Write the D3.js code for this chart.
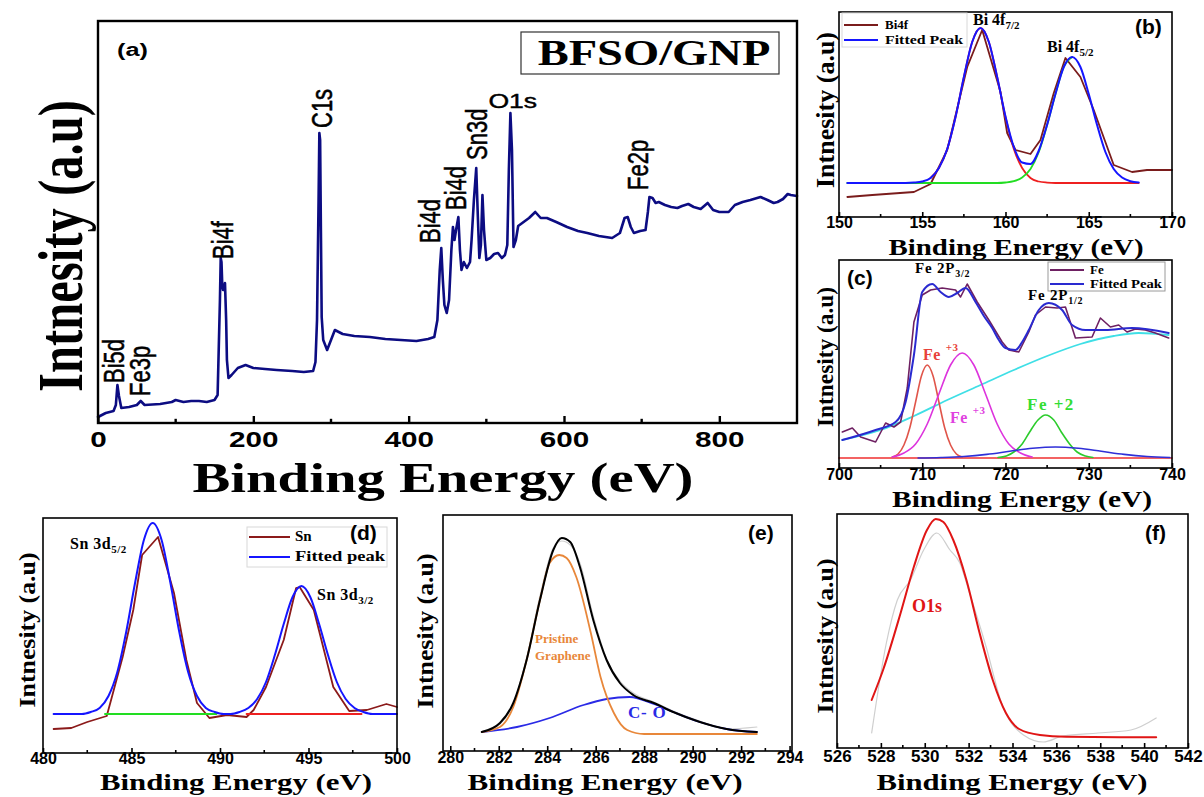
<!DOCTYPE html>
<html>
<head>
<meta charset="utf-8">
<script src="https://cdn.jsdelivr.net/npm/d3@7"></script>
<style>
  body { margin: 0; background: #fff; }
  svg { display: block; }
</style>
</head>
<body>
<svg id="fig" width="1204" height="797"></svg>
<script>
// ---------- data (binding energy eV, intensity a.u.) ----------

// (a) survey spectrum
const surveySpectrum = [
  [0,6],[10,10],[20,12],[23,18],[25,38],[27,27],[30,15],[40,16],[50,18],[55,22],[60,18],[80,19],
  [95,21],[100,23],[110,21],[120,22],[130,22],[140,21],[150,23],[154,28],[157,123],[158,165],
  [159,161],[160,138],[161,133],[162,133],[163.5,140],[165,103],[166,63],[168,45],[172,48],
  [180,55],[190,58],[200,55],[215,54],[230,53],[250,52],[265,51],[277,52],[280,61],[282,103],
  [284,223],[285,290],[286,283],[287,193],[288,106],[290,83],[295,73],[300,83],[305,93],[315,89],
  [330,87],[350,86],[370,84],[390,83],[410,82],[425,84],[433,86],[437,103],[440,153],[442,175],
  [444,143],[446,118],[449,110],[452,123],[455,173],[457,196],[459,183],[461,193],[464,206],
  [466,173],[468,153],[471,161],[475,155],[479,161],[481,183],[484,223],[487,255],[489,208],
  [491,165],[493,178],[495,228],[497,193],[500,163],[505,165],[510,169],[515,170],[520,165],
  [524,168],[527,178],[529,253],[531,310],[533,273],[535,176],[538,183],[541,197],[548,201],
  [555,205],[563,211],[570,205],[578,205],[590,201],[604,196],[618,192],[630,190],[645,187],
  [662,185],[672,190],[678,205],[682,206],[686,196],[690,190],[698,192],[705,193],[708,211],
  [710,226],[714,225],[718,220],[722,221],[730,218],[738,216],[746,215],[752,217],[760,219],
  [767,216],[776,214],[785,220],[792,213],[800,211],[812,211],[820,218],[830,221],[840,223],
  [853,226],[862,223],[870,220],[875,221],[882,224],[888,229],[892,228],[900,227]
];
const surveyPeaks = [
  { name: "Bi5d", e: 25 }, { name: "Fe3p", e: 55 }, { name: "Bi4f", e: 158 },
  { name: "C1s", e: 285 }, { name: "Bi4d", e: 442 }, { name: "Bi4d", e: 464 },
  { name: "Sn3d", e: 487 }, { name: "O1s", e: 531 }, { name: "Fe2p", e: 710 }
];

// (b) Bi 4f
const bi4fRaw = [
  [150.5,20],[152,22],[154.5,25],[155.5,33],[156.5,67],[157.7,150],[158.6,187],[159.7,125],
  [160.1,84],[160.6,67],[161.5,63],[162.1,77],[162.9,124],[163.6,159],[164.5,140],[165.3,107],
  [166.5,52],[167.6,45],[168.5,47],[170,47]
];
const bi4fFit = [
  [150.5,34],[154,34],[154.5,34.4],[155,35.5],[155.5,39],[156,49],[156.5,68],[157,100],[157.5,140],
  [158,175],[158.5,189],[159,175],[159.5,140],[160,100.5],[160.5,70],[161,54.5],[161.5,53],
  [162,66.5],[162.5,92.4],[163,123],[163.5,150],[164,160],[164.5,150],[165,123],[165.5,92],
  [166,65],[166.5,48],[167,39.5],[167.5,35.8],[168,34.5]
];
const bi4f72 = [
  [155.5,39],[156,49],[156.5,68],[157,100],[157.5,140],[158,175],[158.5,189],[159,175],[159.5,140],
  [160,100],[160.5,68],[161,49],[161.5,39],[162,35.5],[162.5,34.4],[163,34],[168,34]
];
const bi4f52 = [
  [150.5,34],[159.5,34],[160,34.5],[160.5,35.8],[161,39.5],[161.5,48],[162,65],[162.5,92],
  [163,123],[163.5,150],[164,160]
];

// (c) Fe 2p
const feRaw = [
  [700.4,36],[701.6,40],[702.6,31],[704.4,26],[705.6,45],[706.6,41],[707.4,46],[708.2,80],
  [709.0,146],[710.0,173],[711.0,178],[712.4,180],[714.0,178],[714.6,171],[715.4,184],[716.6,166],
  [718.0,148],[719.6,126],[720.4,118],[721.6,116],[722.8,136],[723.6,153],[724.8,161],[726.2,160],
  [727.2,161],[728.4,130],[730.4,131],[731.4,150],[732.6,141],[733.6,143],[734.6,136],[735.6,139],
  [736.8,138],[738.0,135],[739.6,130]
];
const feFit = [
  [700.4,28],[704.4,38],[706.8,46],[708.0,66],[709.0,113],[710.0,176],[711.2,184],[712.2,176],
  [713.2,171],[714.2,175],[715.2,180],[716.4,166],[717.4,152],[718.4,140],[719.2,128],[720.0,120],
  [721.2,118],[722.0,126],[722.8,138],[724.0,158],[725.2,165],[726.8,158],[728.0,143],[729.6,138],
  [732.0,138],[735.2,140],[739.6,135]
];
const feBackground = [
  [700.4,28],[705,38],[709,52],[713,68],[717,83],[721,98],[725,112],[729,124],[733,132],[736,135],[739.6,133]
];
const fe3Red = [
  [706.4,11],[707.1,14],[707.8,23],[708.5,40],[709.2,66],[709.9,92],[710.6,103],[711.3,92],
  [712.0,66],[712.7,40],[713.4,23],[714.1,14],[714.8,11]
];
const fe3Magenta = [
  [706.4,11],[707.8,15],[709.2,24],[710.6,44],[712.0,74],[713.4,103],[714.8,115],[716.2,103],
  [717.6,74],[719.0,44],[720.4,24],[721.8,15],[723.2,11]
];
const fe2Green = [
  [719.1,10.5],[720.1,12],[721.0,16],[722.0,24],[722.9,36],[723.9,48],[724.8,53],[725.8,48],
  [726.7,36],[727.7,24],[728.6,16],[729.6,12],[730.5,10.5]
];
const feSatellite = [
  [709.5,10],[712.25,10.5],[715,11.5],[717.75,13.6],[720.5,16.7],[723.25,19.7],[726,21],[728.75,19.7],
  [731.5,16.7],[734.25,13.6],[737,11.5],[739.75,10.5]
];
const feBase = [[700,10],[740,10]];

// (d) Sn 3d
const snRaw = [
  [480.6,24],[481.6,25],[482.5,31],[483.6,37],[483.8,50],[484.5,96],[485.1,143],[485.6,198],
  [486.5,216],[487.4,160],[488.1,93],[488.7,50],[489.4,35],[490.4,38],[491.5,36],[491.9,43],
  [492.6,66],[493.6,113],[494.3,165],[494.5,166],[495.3,143],[496.4,66],[497.3,42],[498.3,43],
  [499.4,49],[500,46]
];
const snFit = [
  [480.6,39],[482.2,39],[482.7,41],[483.2,45],[483.7,57],[484.2,81],[484.7,121],[485.2,170],
  [485.7,213],[486.2,230],[486.7,213],[487.2,170],[487.7,121],[488.2,81],[488.7,57],[489.2,45],
  [489.7,41],[490.2,39],[490.6,39],[491.1,41],[491.6,45],[492.1,54],[492.6,71],[493.1,98],
  [493.6,129],[494.1,156],[494.6,167],[495.1,156],[495.6,129],[496.1,98],[496.6,71],[497.1,54],
  [497.6,45],[498.1,41],[498.6,39],[500,39]
];
const sn52Base = [[483.5,39],[489.8,39]];
const sn32Base = [[491.5,39],[498,39]];

// (e) C 1s
const c1sRaw = [
  [281.3,19],[282.05,27],[282.6,47],[283.15,93],[283.7,155],[284.25,203],[284.6,210],[284.95,206],
  [285.35,188],[285.9,135],[286.45,92],[287.0,70],[287.55,58],[288.4,49],[289.2,40],[290.3,30],
  [291.4,22],[292.65,24]
];
const c1sFit = [
  [281.3,19],[282.05,28],[282.6,48],[283.15,91],[283.7,151],[284.25,201],[284.6,213],[284.95,209],
  [285.35,184],[285.9,131],[286.45,91],[287.0,68],[287.55,56],[288.4,48],[289.2,39],[290.3,29],
  [291.4,22],[292.65,19]
];
const graphenePeak = [
  [281.3,19],[282.05,24],[282.6,44],[283.15,91],[283.7,151],[284.1,188],[284.5,196],[284.8,193],
  [285.2,174],[285.8,118],[286.2,74],[286.75,38],[287.3,21],[288.0,17],[289.0,17],[292.65,17]
];
const coPeak = [
  [281.3,19],[282.75,24],[284.1,33],[285.5,46],[286.45,52],[287.4,54],[288.4,47],[289.2,39],
  [290.3,29],[291.4,22],[292.65,19]
];

// (f) O 1s
const o1sRaw = [
  [527.58,15],[528.25,105],[528.75,148],[529.35,168],[529.95,198],[530.55,215],[531.15,198],
  [531.6,185],[532.0,158],[532.8,101],[533.5,45],[534.5,13],[535.4,6],[536.3,12],[537.9,15],
  [539.4,18],[540.55,30]
];
const o1sFit = [
  [527.58,48],[528.1,78],[528.9,135],[529.5,181],[530.1,218],[530.5,229],[530.85,226],[531.3,208],
  [531.9,168],[532.5,115],[533.1,68],[533.7,35],[534.3,19],[535.25,13],[536.45,11.3],[540.55,10.7]
];

// tick values
const ticksA = [0, 200, 400, 600, 800], minorA = [100, 300, 500, 700];
const ticksB = [150, 155, 160, 165, 170], minorB = [152.5, 157.5, 162.5, 167.5];
const ticksC = [700, 710, 720, 730, 740], minorC = [705, 715, 725, 735];
const ticksD = [480, 485, 490, 495, 500], minorD = [482.5, 487.5, 492.5, 497.5];
const ticksE = [280, 282, 284, 286, 288, 290, 292, 294], minorE = [281, 283, 285, 287, 289, 291, 293];
const ticksF = [526, 528, 530, 532, 534, 536, 538, 540, 542], minorF = [527, 529, 531, 533, 535, 537, 539, 541];

// ---------- drawing ----------
const svg = d3.select("#fig");
const SERIF = "'Liberation Serif', 'Times New Roman', serif";
const SANS = "'Liberation Sans', Arial, sans-serif";

function makePanel(c) {
  const x = d3.scaleLinear().domain(c.xDomain).range([c.left, c.right]);
  const y = d3.scaleLinear().domain([0, c.yMax]).range([c.bottom, c.top]);
  const g = svg.append("g");
  const plot = g.append("g");

  const axis = d3.axisBottom(x).tickValues(c.ticks).tickSizeInner(-c.tick).tickSizeOuter(0).tickPadding(c.pad);
  const axG = g.append("g").attr("transform", `translate(0,${c.bottom})`).call(axis);
  axG.select(".domain").remove();
  axG.selectAll("line").attr("stroke", "#000").attr("stroke-width", c.frameW);
  axG.selectAll("text")
    .attr("font-family", SANS).attr("font-weight", "bold")
    .attr("font-size", c.tickFont).attr("fill", "#000");
  if (c.digitW) {
    axG.selectAll("text")
      .attr("textLength", d => String(d).length * c.digitW)
      .attr("lengthAdjust", "spacingAndGlyphs");
  }
  g.append("g").selectAll("line").data(c.minor).join("line")
    .attr("x1", d => x(d)).attr("x2", d => x(d))
    .attr("y1", c.bottom).attr("y2", c.bottom - c.tick * 0.6)
    .attr("stroke", "#000").attr("stroke-width", c.frameW);

  g.append("rect")
    .attr("x", c.left).attr("y", c.top)
    .attr("width", c.right - c.left).attr("height", c.bottom - c.top)
    .attr("fill", "none").attr("stroke", "#000").attr("stroke-width", c.frameW);

  // axis titles
  g.append("text")
    .attr("x", c.xt[0]).attr("y", c.xt[1])
    .attr("text-anchor", "middle")
    .attr("font-family", SERIF).attr("font-weight", "bold").attr("font-size", c.xt[3])
    .attr("textLength", c.xt[2]).attr("lengthAdjust", "spacingAndGlyphs")
    .text("Binding Energy (eV)");
  g.append("text")
    .attr("transform", `translate(${c.yt[0]},${c.yt[1]}) scale(${c.yt[4] || 1},1) rotate(-90)`)
    .attr("text-anchor", "middle")
    .attr("font-family", SERIF).attr("font-weight", "bold").attr("font-size", c.yt[3])
    .attr("textLength", c.yt[2]).attr("lengthAdjust", "spacingAndGlyphs")
    .text("Intnesity (a.u)");

  return { x, y, g, plot };
}

function drawLine(p, data, color, w, curve) {
  p.plot.append("path").datum(data)
    .attr("fill", "none").attr("stroke", color).attr("stroke-width", w)
    .attr("stroke-linejoin", "round").attr("stroke-linecap", "round")
    .attr("d", d3.line().x(d => p.x(d[0])).y(d => p.y(d[1])).curve(curve || d3.curveLinear));
}

function label(x, y, str, o) {
  o = o || {};
  const t = svg.append("text").attr("x", x).attr("y", y)
    .attr("font-family", o.family || SERIF).attr("font-weight", "bold")
    .attr("font-size", o.size || 16).attr("fill", o.color || "#000")
    .attr("text-anchor", o.anchor || "start");
  if (o.spacing) t.attr("letter-spacing", o.spacing);
  if (o.len) t.attr("textLength", o.len).attr("lengthAdjust", "spacingAndGlyphs");
  t.text(str);
  return t;
}

function subLabel(x, y, main, sub, o) {
  const t = svg.append("text").attr("x", x).attr("y", y)
    .attr("font-family", SERIF).attr("font-weight", "bold")
    .attr("font-size", o.size).attr("fill", o.color || "#000")
    .attr("letter-spacing", o.spacing || 0);
  t.append("tspan").text(main);
  t.append("tspan").attr("dy", o.dy).attr("font-size", o.subSize).text(sub);
  return t;
}

function legend(x0, y0, w, h, items, o) {
  svg.append("rect").attr("x", x0).attr("y", y0).attr("width", w).attr("height", h)
    .attr("fill", "#fff").attr("stroke", o.border).attr("stroke-width", 1);
  items.forEach((it, i) => {
    const ly = y0 + o.rowY[i];
    svg.append("line").attr("x1", x0 + 2).attr("x2", x0 + o.lineW).attr("y1", ly).attr("y2", ly)
      .attr("stroke", it.color).attr("stroke-width", 2);
    label(x0 + o.textX, ly + 4, it.name, { size: o.size, len: it.len });
  });
}

// ----- panel (a) -----
const SX = 1.33;
const pA = makePanel({
  xDomain: [0, 900], yMax: 402, left: 98, right: 797, top: 21, bottom: 423,
  ticks: ticksA, minor: minorA, tick: 7, pad: 8, tickFont: 22, digitW: 16.5, frameW: 2.4,
  xt: [443, 492, 501, 42], yt: [82, 246, 292, 48, SX]
});
drawLine(pA, surveySpectrum, "#0c0c82", 2.6);

const peakLabelPos = {
  "Bi5d": [124, 383], "Fe3p": [150, 396], "Bi4f": [233, 259], "C1s": [332, 128],
  "Bi4d": [[440, 243], [466, 210]], "Sn3d": [487, 160], "Fe2p": [648, 190]
};
let bi4dCount = 0;
surveyPeaks.forEach(pk => {
  if (pk.name === "O1s") {
    svg.append("text")
      .attr("transform", `translate(${pA.x(pk.e) - 22},108) scale(${SX},1)`)
      .attr("font-family", SANS).attr("font-size", 20).attr("fill", "#000")
      .attr("stroke", "#000").attr("stroke-width", 0.4)
      .text(pk.name);
    return;
  }
  let pos = peakLabelPos[pk.name];
  if (pk.name === "Bi4d") pos = pos[bi4dCount++];
  svg.append("text")
    .attr("transform", `translate(${pos[0]},${pos[1]}) scale(${SX},1) rotate(-90)`)
    .attr("font-family", SANS).attr("font-size", 22).attr("fill", "#000")
    .attr("stroke", "#000").attr("stroke-width", 0.4)
    .text(pk.name);
});

svg.append("text").attr("transform", `translate(117,56) scale(${SX},1)`)
  .attr("font-family", SANS).attr("font-weight", "bold").attr("font-size", 19).text("(a)");
svg.append("rect").attr("x", 521).attr("y", 32).attr("width", 258).attr("height", 42)
  .attr("fill", "none").attr("stroke", "#333").attr("stroke-width", 1.2);
svg.append("text").attr("transform", `translate(654,65) scale(${SX},1)`)
  .attr("text-anchor", "middle")
  .attr("font-family", SERIF).attr("font-weight", "bold").attr("font-size", 35).text("BFSO/GNP");

// ----- panel (b) -----
const pB = makePanel({
  xDomain: [150, 170], yMax: 205, left: 839, right: 1172, top: 12, bottom: 217,
  ticks: ticksB, minor: minorB, tick: 5, pad: 0, tickFont: 16, frameW: 1.6,
  xt: [1016, 255, 255, 24], yt: [834, 110, 156, 26]
});
drawLine(pB, bi4fRaw, "#7a1c1c", 1.8);
drawLine(pB, bi4f72, "#ee2020", 1.8, d3.curveMonotoneX);
drawLine(pB, bi4f52, "#22dd22", 1.8, d3.curveMonotoneX);
drawLine(pB, bi4fFit, "#1515ff", 2, d3.curveMonotoneX);
legend(842, 13, 125, 34, [
  { name: "Bi4f", color: "#7a1c1c" },
  { name: "Fitted Peak", color: "#1515ff", len: 78 }
], { border: "#d8d8d8", rowY: [12, 27], lineW: 36, textX: 43, size: 13 });
subLabel(973, 25, "Bi 4f", "7/2", { size: 16, subSize: 11, dy: 4 });
subLabel(1047, 52, "Bi 4f", "5/2", { size: 16, subSize: 11, dy: 4 });
label(1135, 34, "(b)", { family: SANS, size: 21 });

// ----- panel (c) -----
const pC = makePanel({
  xDomain: [700, 740], yMax: 208, left: 839, right: 1172, top: 260, bottom: 468,
  ticks: ticksC, minor: minorC, tick: 5, pad: 1, tickFont: 16, frameW: 1.6,
  xt: [1022, 507, 260, 24], yt: [833, 357, 140, 24]
});
drawLine(pC, feBase, "#f03030", 1.6);
drawLine(pC, feBackground, "#3fdfe6", 1.8, d3.curveMonotoneX);
drawLine(pC, fe3Red, "#e0554a", 1.6, d3.curveMonotoneX);
drawLine(pC, fe3Magenta, "#dd33dd", 1.6, d3.curveMonotoneX);
drawLine(pC, fe2Green, "#2ccc2c", 1.6, d3.curveMonotoneX);
drawLine(pC, feSatellite, "#2f2fd8", 1.6, d3.curveMonotoneX);
drawLine(pC, feRaw, "#6e2062", 1.6);
drawLine(pC, feFit, "#2a2ad0", 2, d3.curveMonotoneX);
legend(1048, 262, 117, 29, [
  { name: "Fe", color: "#6e2062" },
  { name: "Fitted Peak", color: "#2a2ad0", len: 72 }
], { border: "#9a9a9a", rowY: [8, 22], lineW: 36, textX: 42, size: 13 });
label(847, 285, "(c)", { family: SANS, size: 21 });
subLabel(915, 273, "Fe 2P", "3/2", { size: 15, subSize: 10, dy: 4, spacing: 0.8 });
subLabel(1028, 300, "Fe 2P", "1/2", { size: 15, subSize: 10, dy: 4, spacing: 0.8 });
subLabel(923, 360, "Fe ", "+3", { size: 16, subSize: 11, dy: -9, color: "#e8413a", spacing: 0.6 });
subLabel(950, 423, "Fe ", "+3", { size: 16, subSize: 11, dy: -9, color: "#e040e0", spacing: 0.6 });
label(1027, 410, "Fe +2", { size: 17, color: "#33dd33", spacing: 1.5 });

// ----- panel (d) -----
const pD = makePanel({
  xDomain: [480, 500], yMax: 235, left: 43, right: 397, top: 518, bottom: 753,
  ticks: ticksD, minor: minorD, tick: 5, pad: 0, tickFont: 16, frameW: 1.6,
  xt: [236, 790, 272, 24], yt: [35, 630, 155, 24]
});
drawLine(pD, snRaw, "#8b1a1a", 1.8);
drawLine(pD, sn52Base, "#22dd22", 1.8);
drawLine(pD, sn32Base, "#ee2020", 1.8);
drawLine(pD, snFit, "#1515ff", 2, d3.curveMonotoneX);
legend(247, 527, 140, 40, [
  { name: "Sn", color: "#8b1a1a" },
  { name: "Fitted peak", color: "#1515ff", len: 90 }
], { border: "#d8d8d8", rowY: [10, 30], lineW: 43, textX: 48, size: 15 });
label(350, 540, "(d)", { family: SANS, size: 21 });
subLabel(70, 549, "Sn 3d", "5/2", { size: 16, subSize: 11, dy: 4, spacing: 0.5 });
subLabel(317, 600, "Sn 3d", "3/2", { size: 16, subSize: 11, dy: 4, spacing: 0.5 });

// ----- panel (e) -----
const pE = makePanel({
  xDomain: [279.7, 294.1], yMax: 236, left: 443, right: 792, top: 515, bottom: 751,
  ticks: ticksE, minor: minorE, tick: 5, pad: 1, tickFont: 16, frameW: 1.6,
  xt: [605, 790, 275, 24], yt: [433, 631, 155, 24]
});
drawLine(pE, c1sRaw, "#cfcfcf", 1.2, d3.curveMonotoneX);
drawLine(pE, coPeak, "#2a2ae6", 1.8, d3.curveMonotoneX);
drawLine(pE, graphenePeak, "#e8873a", 1.8, d3.curveMonotoneX);
drawLine(pE, c1sFit, "#000", 2, d3.curveMonotoneX);
label(748, 540, "(e)", { family: SANS, size: 21 });
label(535, 643, "Pristine", { size: 13, color: "#e8873a" });
label(535, 660, "Graphene", { size: 13, color: "#e8873a" });
label(628, 718, "C- O", { size: 17, color: "#2a2ae6", spacing: 0.8 });

// ----- panel (f) -----
const pF = makePanel({
  xDomain: [526, 542], yMax: 234, left: 837, right: 1188, top: 514, bottom: 748,
  ticks: ticksF, minor: minorF, tick: 5, pad: 2, tickFont: 17, frameW: 1.6,
  xt: [1012, 790, 271, 24], yt: [833, 636, 155, 24]
});
drawLine(pF, o1sRaw, "#cfcfcf", 1.2, d3.curveMonotoneX);
drawLine(pF, o1sFit, "#e01515", 2, d3.curveMonotoneX);
label(1145, 540, "(f)", { family: SANS, size: 21 });
label(912, 612, "O1s", { size: 18, color: "#e01515" });
</script>
</body>
</html>
